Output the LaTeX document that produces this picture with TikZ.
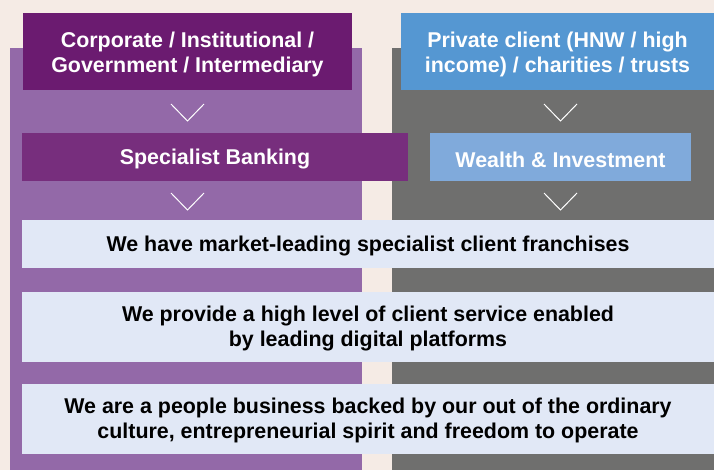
\documentclass[tikz,border=0pt]{standalone}
\usepackage{fontspec}
\setmainfont{Liberation Sans}
\definecolor{bgc}{HTML}{F5EBE5}
\definecolor{purcol}{HTML}{9369A8}
\definecolor{greycol}{HTML}{6F6F6E}
\definecolor{darkpur}{HTML}{6B1B70}
\definecolor{midpur}{HTML}{772E7D}
\definecolor{bluetop}{HTML}{5597D2}
\definecolor{bluelt}{HTML}{80AADB}
\definecolor{lightbox}{HTML}{E1E8F6}
\begin{document}
\begin{tikzpicture}[x=1pt,y=-1pt,
  hbox/.style={inner sep=0pt, outer sep=0pt, align=center, font=\fontsize{21.4}{25}\selectfont\bfseries},
  wtxt/.style={hbox, text=white},
  btxt/.style={hbox, text=black},
  chev/.style={draw=white, line width=1pt}]
\fill[bgc] (0,0) rectangle (714,470);
\useasboundingbox (0,0) rectangle (714,470);
% columns
\fill[purcol] (10,48) rectangle (362,470);
\fill[greycol] (392,48) rectangle (714,470);
% top boxes
\fill[darkpur] (23,13) rectangle (352,90);
\node[wtxt] (corp) at (187.5,54.5) {Corporate / Institutional /\\Government / Intermediary};
\fill[bluetop] (401,13) rectangle (714,90);
\node[wtxt] (priv) at (557.5,54.5) {Private client (HNW / high\\income) / charities / trusts};
% chevrons
\draw[chev] (171,104) -- (187.5,121) -- (204,104);
\draw[chev] (544,104) -- (560.5,121) -- (577,104);
% middle boxes
\fill[midpur] (22,133) rectangle (408,181);
\node[wtxt] (spec) at (215,159.5) {Specialist Banking};
\fill[bluelt] (430,133) rectangle (691,181);
\node[wtxt] (wi) at (560.5,159.5) {Wealth \& Investment};
\draw[chev] (171,193) -- (187.5,210) -- (204,193);
\draw[chev] (544,193) -- (560.5,210) -- (577,193);
% light boxes
\fill[lightbox] (22,220) rectangle (714,268);
\node[btxt] (l1) at (368,246.5) {We have market-leading specialist client franchises};
\fill[lightbox] (22,292) rectangle (714,362);
\node[btxt] (l2) at (368,328.5) {We provide a high level of client service enabled\\by leading digital platforms};
\fill[lightbox] (22,384) rectangle (714,454);
\node[btxt] (l3) at (368,420.5) {We are a people business backed by our out of the ordinary\\culture, entrepreneurial spirit and freedom to operate};
\end{tikzpicture}
\end{document}
